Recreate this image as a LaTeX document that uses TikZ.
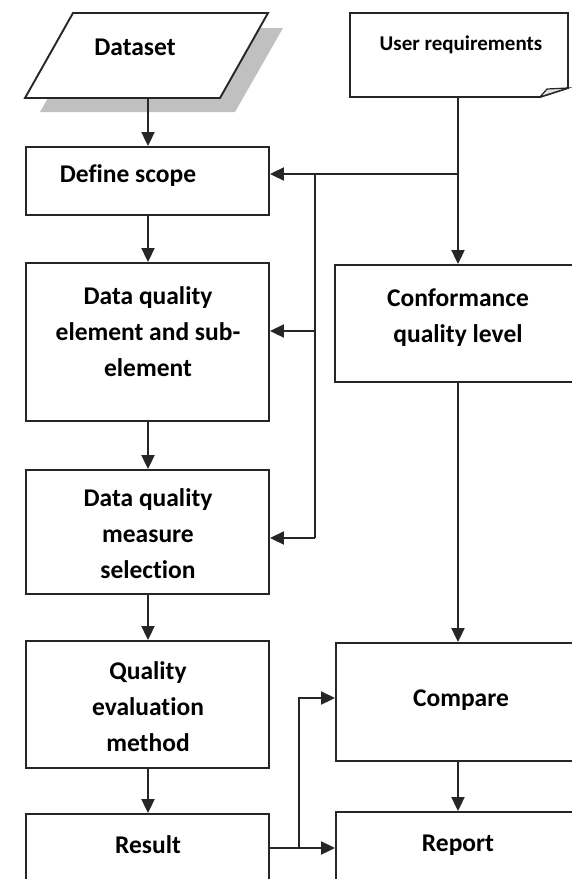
\documentclass[tikz,border=0pt]{standalone}
\usepackage{fontspec}
\setmainfont{Carlito}[Ligatures={NoCommon}]
\usetikzlibrary{arrows.meta,fit}
\definecolor{linegray}{RGB}{38,38,38}
\definecolor{shadowgray}{RGB}{192,192,192}
\definecolor{foldgray}{RGB}{225,225,225}
\begin{document}
\begin{tikzpicture}[x=1pt,y=-1pt,
  box/.style={draw=linegray,line width=1.9pt,fill=white,inner sep=0pt},
  lbl/.style={font=\bfseries\fontsize{25.5}{36}\selectfont,align=center,inner sep=0pt},
  smalllbl/.style={font=\bfseries\fontsize{21}{26}\selectfont,align=center,inner sep=0pt},
  conn/.style={draw=linegray,line width=2pt},
  arr/.style={conn,-{Triangle[length=14pt,width=13pt]}}]
\useasboundingbox (0,0) rectangle (572,879);
\clip (0,0) rectangle (572,879);

% Dataset: parallelogram with a drop shadow
\fill[shadowgray] (88,28) -- (283,28) -- (235,112) -- (40,112) -- cycle;
\draw[box] (73,13) -- (268,13) -- (220,98) -- (25,98) -- cycle;
\node[lbl] (dataset) at (135,47) {Dataset};
\coordinate (datasetout) at (148,98);

% User requirements: document with folded corner
\draw[box] (350,13) -- (568,13) -- (568,88) -- (540,97) -- (350,97) -- cycle;
\draw[draw=linegray,line width=1.2pt,fill=foldgray] (540,97) -- (547,89) -- (568,88) -- cycle;
\node[smalllbl] (userreq) at (461,45) {User requirements};
\coordinate (userout) at (458,97);

% Left column of process boxes
\node[box,fit={(26,147) (269,215)}] (scope) {};
\node[lbl] (scopetxt) at (128,176) {Define scope};

\node[box,fit={(26,263) (269,421)}] (element) {};
\node[lbl] (elementtxt) at (148,332) {Data quality\\element and sub-\\element};

\node[box,fit={(26,470) (269,594)}] (measure) {};
\node[lbl] (measuretxt) at (148,534) {Data quality\\measure\\selection};

\node[box,fit={(26,641) (269,768)}] (method) {};
\node[lbl] (methodtxt) at (148,707) {Quality\\evaluation\\method};

\node[box,fit={(26,814) (269,905)}] (result) {};
\node[lbl] (resulttxt) at (148,845) {Result};

% Right column
\node[box,fit={(335,265) (582,382)}] (conform) {};
\node[lbl] (conformtxt) at (458,318) {Conformance\\quality level};

\node[box,fit={(336,643) (582,761)}] (compare) {};
\node[lbl] (comparetxt) at (461,700) {Compare};

\node[box,fit={(336,812) (582,905)}] (report) {};
\node[lbl] (reporttxt) at (458,845) {Report};

% Main flow
\draw[arr] (datasetout) -- (datasetout |- scope.north);
\draw[arr] (scope.south -| datasetout) -- (element.north -| datasetout);
\draw[arr] (element.south -| datasetout) -- (measure.north -| datasetout);
\draw[arr] (measure.south -| datasetout) -- (method.north -| datasetout);
\draw[arr] (method.south -| datasetout) -- (result.north -| datasetout);

% Requirements distribution
\coordinate (split) at (458,174);
\coordinate (bus) at (315,174);
\coordinate (tapA) at (315,331);
\coordinate (tapB) at (315,538);
\draw[conn] (userout) -- (split);
\draw[arr] (split) -- (split |- conform.north);
\draw[arr] (split) -- (split -| scope.east);
\draw[conn] (bus) -- (tapB);
\draw[arr] (tapA) -- (tapA -| element.east);
\draw[arr] (tapB) -- (tapB -| measure.east);

% Comparison and report
\draw[arr] (conform.south -| split) -- (compare.north -| split);
\draw[arr] (compare.south -| split) -- (report.north -| split);
\coordinate (resout) at (269,848);
\coordinate (fork) at (299,848);
\coordinate (bend) at (299,698);
\draw[arr] (resout) -- (resout -| report.west);
\draw[arr] (fork) -- (bend) -- (bend -| compare.west);
\end{tikzpicture}
\end{document}
